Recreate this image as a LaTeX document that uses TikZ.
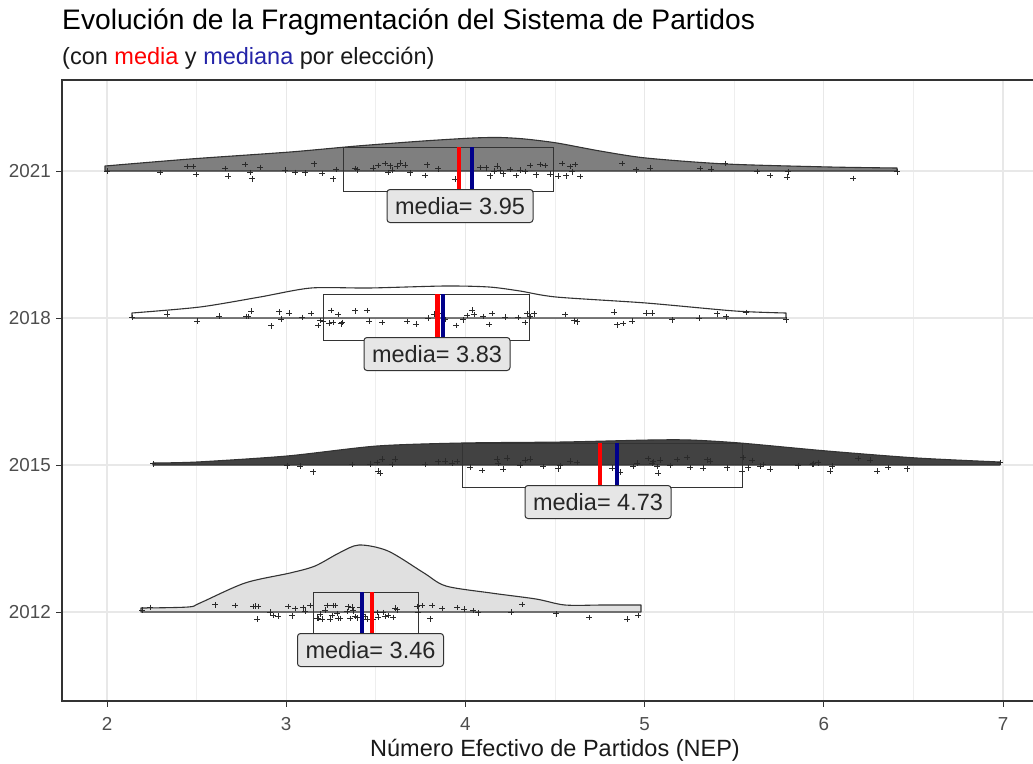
\documentclass[tikz,border=0pt]{standalone}
\usepackage{fontspec}
\setmainfont{Liberation Sans}
\definecolor{gridc}{HTML}{E8E8E8}
\definecolor{gridm}{HTML}{EEEEEE}
\definecolor{axc}{HTML}{333333}
\definecolor{tickc}{HTML}{4D4D4D}
\definecolor{dA}{HTML}{7F7F7F}
\definecolor{dB}{HTML}{FFFFFF}
\definecolor{dC}{HTML}{424242}
\definecolor{dD}{HTML}{E0E0E0}
\definecolor{meanc}{HTML}{FF0000}
\definecolor{medc}{HTML}{00008B}
\definecolor{medtxt}{HTML}{2424A8}
\definecolor{labfill}{HTML}{E6E6E6}
\definecolor{ptc}{HTML}{2A2A2A}
\tikzset{
  gridmajor/.style={draw=gridc, line width=1.1pt},
  gridminor/.style={draw=gridm, line width=0.7pt},
  panelst/.style={draw=axc, line width=1.2pt},
  tickst/.style={draw=axc, line width=1pt},
  dens/.style={draw=axc, line width=1.1pt, line join=round},
  boxst/.style={draw=axc, line width=1pt},
  pt/.style={draw=ptc, line width=0.9pt},
  meanline/.style={draw=meanc, line width=4.5pt},
  medline/.style={draw=medc, line width=4.5pt},
  lab/.style={draw=axc, line width=1pt, fill=labfill, rounded corners=3pt,
    minimum width=146pt, minimum height=33pt, inner sep=0pt,
    font=\fontsize{23.5}{26}\selectfont, text=black!85},
  ticklab/.style={font=\fontsize{18.8}{21}\selectfont, text=tickc, inner sep=0pt},
}
\begin{document}
\begin{tikzpicture}[x=1pt,y=-1pt]
\useasboundingbox (0,0) rectangle (1033,763);
\clip (0,0) rectangle (1033,763);
\fill[white] (0,0) rectangle (1033,763);

% grid
\foreach \v in {2.5,3.5,4.5,5.5,6.5}
  \draw[gridminor] ({107+(\v-2)*179.2},80) -- ++(0,621);
\foreach \v in {2,...,7}
  \draw[gridmajor] ({107+(\v-2)*179.2},80) -- ++(0,621);
\foreach \b in {171,318,465,612}
  \draw[gridmajor] (62,\b) -- (1050,\b);

% densities
\draw[dens, fill=dA] (105,171) -- plot[smooth, tension=0.45] coordinates {(105,166) (190,159) (290,152) (357,146) (423,141) (473,138) (500,137.5) (525,139) (557,143) (600,151) (646,158) (726,164) (830,167) (897,168)} -- (897,171) -- cycle;
\draw[dens, fill=dB] (132,318) -- plot[smooth, tension=0.45] coordinates {(132,313) (200,307) (260,297) (311,288) (369,288) (445,286) (489,287) (520,291) (556,297) (646,303) (735,311) (786,313)} -- (786,318) -- cycle;
\draw[dens, fill=dC] (153,465) -- plot[smooth, tension=0.45] coordinates {(153,463) (197,462) (287,456) (377,446) (463,443) (563,442) (650,440) (690,440) (740,443) (827,451) (917,458) (1000,462)} -- (1000,465) -- cycle;
\draw[dens, fill=dD] (141,612) -- plot[smooth, tension=0.5] coordinates {(141,608) (188,607) (200,603) (245,583) (290,573) (315,566) (339,553) (359,545) (388,551) (424,573) (446,586) (491,593) (536,599) (565,605) (603,605) (641,605)} -- (641,612) -- cycle;

% boxes
\draw[boxst] (343,147) rectangle (553,191);
\draw[boxst] (323,294) rectangle (529,340);
\draw[boxst] (462,443) rectangle (742,487);
\draw[boxst] (313,592) rectangle (418,633);

% points
\pgfmathsetseed{2021}
\foreach \px in {107,160,187,193,196,225,228,245,250,252,260,285,295,305,314,322,333,336,355,357,373,378,385,388,390,392,397,400,405,410,425,427,438,455,480,486,490,494,497,500,503,510,516,520,525,530,536,540,545,550,558,562,566,570,572,575,580,622,636,650,700,711,725,757,770,787,788,853,897}{
  \pgfmathsetmacro\py{171+8*rand}
  \draw[pt] (\px,\py) +(-2.8,0) -- +(2.8,0) +(0,-2.8) -- +(0,2.8);
}
\pgfmathsetseed{2018}
\foreach \px in {132,167,197,219,246,248,251,271,279,281,289,302,311,318,320,323,329,331,333,338,341,342,355,367,369,382,407,416,428,434,438,445,456,463,467,472,474,483,489,492,505,518,525,527,530,534,565,574,577,614,617,623,632,646,652,672,699,717,726,746,786}{
  \pgfmathsetmacro\py{318+8*rand}
  \draw[pt] (\px,\py) +(-2.8,0) -- +(2.8,0) +(0,-2.8) -- +(0,2.8);
}
\pgfmathsetseed{2015}
\foreach \px in {153,287,300,313,352,370,377,378,380,382,392,395,425,438,445,452,457,470,482,497,498,503,507,520,525,530,543,558,560,570,577,612,620,633,637,648,652,653,657,658,660,670,677,687,690,703,707,710,727,742,743,748,752,760,763,770,798,812,813,818,830,832,858,870,877,888,907,1000}{
  \pgfmathsetmacro\py{465+8*rand}
  \draw[pt] (\px,\py) +(-2.8,0) -- +(2.8,0) +(0,-2.8) -- +(0,2.8);
}
\pgfmathsetseed{2012}
\foreach \px in {142,150,215,235,253,255,257,258,270,273,278,288,292,295,303,305,310,317,318,320,322,325,327,330,332,333,335,337,338,340,347,348,350,352,353,355,357,360,363,365,367,373,377,378,383,385,388,393,395,397,417,418,422,430,432,442,457,464,473,478,511,522,556,589,627,638}{
  \pgfmathsetmacro\py{612+8*rand}
  \draw[pt] (\px,\py) +(-2.8,0) -- +(2.8,0) +(0,-2.8) -- +(0,2.8);
}

% mean / median lines
\draw[meanline] (459,147) -- (459,191);
\draw[medline] (472,147) -- (472,191);
\draw[meanline] (437.5,294) -- (437.5,340);
\draw[medline] (443,294) -- (443,340);
\draw[meanline] (600,443) -- (600,487);
\draw[medline] (617,443) -- (617,487);
\draw[medline] (362,592) -- (362,633);
\draw[meanline] (372,592) -- (372,633);

% labels
\node[lab] (l21) at (460,206) {media= 3.95};
\node[lab] (l18) at (437,354) {media= 3.83};
\node[lab] (l15) at (598,502) {media= 4.73};
\node[lab] (l12) at (370.5,650) {media= 3.46};

% panel border and ticks
\draw[panelst] (62,80) rectangle (1050,701);
\foreach \b/\yr in {171/2021,318/2018,465/2015,612/2012}{
  \draw[tickst] (56,\b) -- (62,\b);
  \node[ticklab, anchor=east] (y\yr) at (51,\b) {\yr};
}
\foreach \v in {2,...,7}{
  \draw[tickst] ({107+(\v-2)*179.2},701) -- ++(0,6);
  \node[ticklab, anchor=base] (x\v) at ({107+(\v-2)*179.2},730) {\v};
}

% titles
\node[anchor=base west, inner sep=0pt, font=\fontsize{28.2}{31}\selectfont] (title) at (62,29) {Evolución de la Fragmentación del Sistema de Partidos};
\node[anchor=base west, inner sep=0pt, font=\fontsize{23.5}{26}\selectfont, text=black!90] (subtitle) at (62,64) {(con \textcolor{meanc}{media} y \textcolor{medtxt}{mediana} por elección)};
\node[anchor=base, inner sep=0pt, font=\fontsize{23.5}{26}\selectfont, text=black!90] (xtitle) at (555,756) {Número Efectivo de Partidos (NEP)};
\end{tikzpicture}
\end{document}
